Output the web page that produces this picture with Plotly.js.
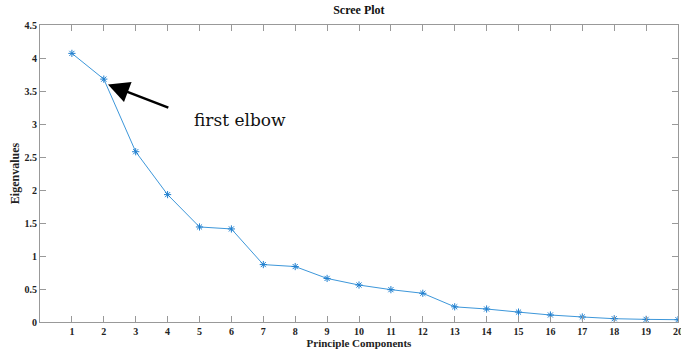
<!DOCTYPE html>
<html>
<head>
<meta charset="utf-8">
<script src="https://cdn.plot.ly/plotly-3.0.1.min.js"></script>
<style>html,body{margin:0;padding:0;background:#fff;}#chart{width:681px;height:350px;}</style>
</head>
<body>
<div id="chart"></div>
<script>
const components = [1,2,3,4,5,6,7,8,9,10,11,12,13,14,15,16,17,18,19,20];
const eigenvalues = [4.07,3.68,2.58,1.93,1.44,1.41,0.87,0.84,0.66,0.56,0.49,0.435,0.23,0.197,0.15,0.106,0.076,0.05,0.04,0.035];
const yTicks = [0,0.5,1,1.5,2,2.5,3,3.5,4,4.5];
const yTickText = ['0','0.5','1','1.5','2','2.5','3','3.5','4','4.5'];

const SERIF = '"Liberation Serif", "Times New Roman", serif';
const tickFont = {family:SERIF, size:10, color:'#222', weight:'bold'};
const axisCol = '#999';

const trace = {
  x: components, y: eigenvalues, type:'scatter', mode:'lines+markers',
  line:{color:'#3d97da', width:1},
  marker:{symbol:'asterisk-open', size:6, color:'#1f7fcf', line:{color:'#1f7fcf', width:1}},
  hoverinfo:'skip'
};

const layout = {
  width:681, height:350,
  margin:{l:40, r:3, t:25, b:28},
  paper_bgcolor:'#fff', plot_bgcolor:'#fff',
  showlegend:false,
  font:{family:SERIF},
  title:{text:'Scree Plot', font:{family:SERIF, size:12, color:'#111', weight:'bold'}, x:0.527, xanchor:'center', y:0.985, yanchor:'top'},
  xaxis:{
    range:[0,20], tickvals:components, ticktext:components.map(String),
    ticks:'inside', ticklen:6, tickcolor:axisCol, tickwidth:1,
    showline:true, linecolor:axisCol, linewidth:1, mirror:'ticks',
    showgrid:false, zeroline:false, tickfont:tickFont, ticklabeloverflow:'allow',
    title:{text:'Principle Components', font:{family:SERIF, size:11, color:'#222', weight:'bold'}, standoff:2}
  },
  yaxis:{
    range:[0,4.5], tickvals:yTicks, ticktext:yTickText,
    ticks:'inside', ticklen:6, tickcolor:axisCol, tickwidth:1,
    showline:true, linecolor:axisCol, linewidth:1, mirror:'ticks',
    showgrid:false, zeroline:false, tickfont:tickFont,
    title:{text:'Eigenvalues', font:{family:SERIF, size:12, color:'#222', weight:'bold'}, standoff:2}
  },
  annotations:[
    {x:2.13, y:3.6, xref:'x', yref:'y', ax:4.07, ay:3.24, axref:'x', ayref:'y',
     text:'', showarrow:true, arrowhead:2, arrowsize:1.7, arrowwidth:2.5, arrowcolor:'#000'},
    {x:6.27, y:3.06, xref:'x', yref:'y', text:'first elbow', showarrow:false,
     font:{family:'"DejaVu Serif", serif', size:17, color:'#111'}, xanchor:'center', yanchor:'middle'}
  ]
};

Plotly.newPlot('chart', [trace], layout, {displayModeBar:false, staticPlot:true});
</script>
</body>
</html>
